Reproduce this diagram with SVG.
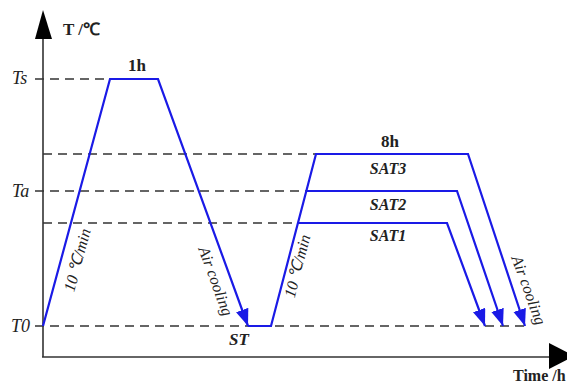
<svg xmlns="http://www.w3.org/2000/svg" width="567" height="383" viewBox="0 0 567 383">
<style>
.axis{stroke:#333;stroke-width:1.6;fill:none}
.dash{stroke:#333;stroke-width:1.5;fill:none;stroke-dasharray:9,6}
.curve{stroke:#1a1ae6;stroke-width:2.2;fill:none;stroke-linejoin:miter}
.lbl{font-family:"Liberation Serif",serif;fill:#222}
.it{font-style:italic}
.b{font-weight:bold}
</style>
<defs>
<marker id="ah" markerUnits="userSpaceOnUse" markerWidth="18" markerHeight="14" refX="17" refY="6.5" orient="auto">
<path d="M0,0 L17,6.5 L0,13 z" fill="#1a1ae6"/>
</marker>
</defs>
<rect width="567" height="383" fill="#fff"/>
<g id="axes">
<line class="axis" x1="43" y1="36" x2="43" y2="357"/>
<line class="axis" x1="42" y1="357" x2="552" y2="357"/>
<path d="M43,10 L35,39 L52,39 z" fill="#000"/>
<path d="M574,356 L549,343 L549,369 z" fill="#000"/>
</g>
<g id="guides">
<line class="dash" x1="35" y1="79" x2="110" y2="79"/>
<line class="dash" x1="43" y1="154" x2="316" y2="154"/>
<line class="dash" x1="35" y1="191" x2="307" y2="191"/>
<line class="dash" x1="43" y1="223" x2="298" y2="223"/>
<line class="dash" x1="35" y1="326" x2="530" y2="326"/>
</g>
<g id="connectors">
<polyline class="curve" points="43,326 110,79 158,79 248,326" marker-end="url(#ah)"/>
<polyline class="curve" points="248,326 271,326 316,154 468,154 525,326" marker-end="url(#ah)"/>
<polyline class="curve" points="306.5,191 457,191 503,326" marker-end="url(#ah)"/>
<polyline class="curve" points="298,223 447,223 485,326" marker-end="url(#ah)"/>
</g>
<g id="labels">
<text class="lbl b" x="63" y="35" font-size="17">T /℃</text>
<text class="lbl it" x="12" y="84" font-size="18">Ts</text>
<text class="lbl it" x="12" y="197" font-size="18">Ta</text>
<text class="lbl it" x="11" y="332" font-size="18">T0</text>
<text class="lbl b" x="137" y="71" font-size="17" text-anchor="middle">1h</text>
<text class="lbl b" x="390" y="147" font-size="17" text-anchor="middle">8h</text>
<text class="lbl b it" x="388" y="174" font-size="16" text-anchor="middle">SAT3</text>
<text class="lbl b it" x="388" y="210" font-size="16" text-anchor="middle">SAT2</text>
<text class="lbl b it" x="388" y="241" font-size="16" text-anchor="middle">SAT1</text>
<text class="lbl b it" x="239" y="345" font-size="17" text-anchor="middle">ST</text>
<text class="lbl b" x="513" y="381" font-size="16">Time /h</text>
<text class="lbl it" font-size="16" text-anchor="middle" dy="0.35em" transform="translate(77,260) rotate(-75)">10 ℃/min</text>
<text class="lbl it" font-size="16" text-anchor="middle" dy="0.35em" transform="translate(297,266) rotate(-75.6)">10 ℃/min</text>
<text class="lbl it" font-size="16" text-anchor="middle" dy="0.35em" transform="translate(216,281) rotate(70)">Air cooling</text>
<text class="lbl it" font-size="16" text-anchor="middle" dy="0.35em" transform="translate(529,290) rotate(70)">Air cooling</text>
</g>
</svg>
